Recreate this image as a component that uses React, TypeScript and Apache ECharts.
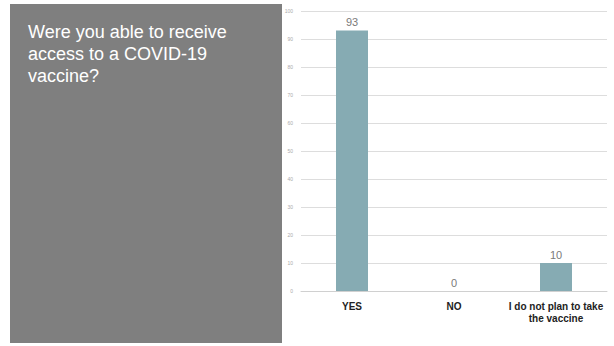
import React, { useEffect, useRef } from "react";
import * as echarts from "echarts";

const categories = ["YES", "NO", "I do not plan to take\nthe vaccine"];
const values = [93, 0, 10];
const title = "Were you able to receive\naccess to a COVID-19\nvaccine?";

export default function App() {
  const ref = useRef<HTMLDivElement>(null);
  useEffect(() => {
    const chart = echarts.init(ref.current!, undefined, { renderer: "svg" });
    chart.setOption({
      animation: false,
      backgroundColor: "#ffffff",
      graphic: [
        { type: "rect", shape: { x: 10, y: 4, width: 272, height: 339 }, style: { fill: "#7f7f7f" } },
        {
          type: "text",
          x: 28,
          y: 21,
          style: {
            text: title,
            fill: "#ffffff",
            font: "18px 'Liberation Sans', Arial, sans-serif",
            lineHeight: 22,
          },
        },
      ],
      grid: { left: 301, right: 7, top: 11, bottom: 55 },
      xAxis: {
        type: "category",
        data: categories,
        axisLine: { show: true, lineStyle: { color: "#d0d0d0", width: 1 } },
        axisTick: { show: false },
        axisLabel: {
          color: "#222222",
          fontSize: 10,
          fontWeight: "bold",
          fontFamily: "'Liberation Sans', Arial, sans-serif",
          margin: 9,
          lineHeight: 12,
          interval: 0,
        },
      },
      yAxis: {
        type: "value",
        min: 0,
        max: 100,
        interval: 10,
        axisLine: { show: false },
        axisTick: { show: false },
        splitLine: { lineStyle: { color: "#dddddd", width: 1 } },
        axisLabel: { color: "#aaaaaa", fontSize: 5, margin: 8, fontFamily: "'Liberation Sans', Arial, sans-serif" },
      },
      series: [
        {
          type: "bar",
          data: values,
          barWidth: 32,
          itemStyle: { color: "#86abb3" },
          label: {
            show: true,
            position: "top",
            color: "#7a7a7a",
            fontSize: 11,
            distance: 3,
            fontFamily: "'Liberation Sans', Arial, sans-serif",
          },
        },
      ],
    });
    return () => chart.dispose();
  }, []);
  return <div ref={ref} style={{ width: 614, height: 346, position: "absolute", left: 0, top: 0 }} />;
}
